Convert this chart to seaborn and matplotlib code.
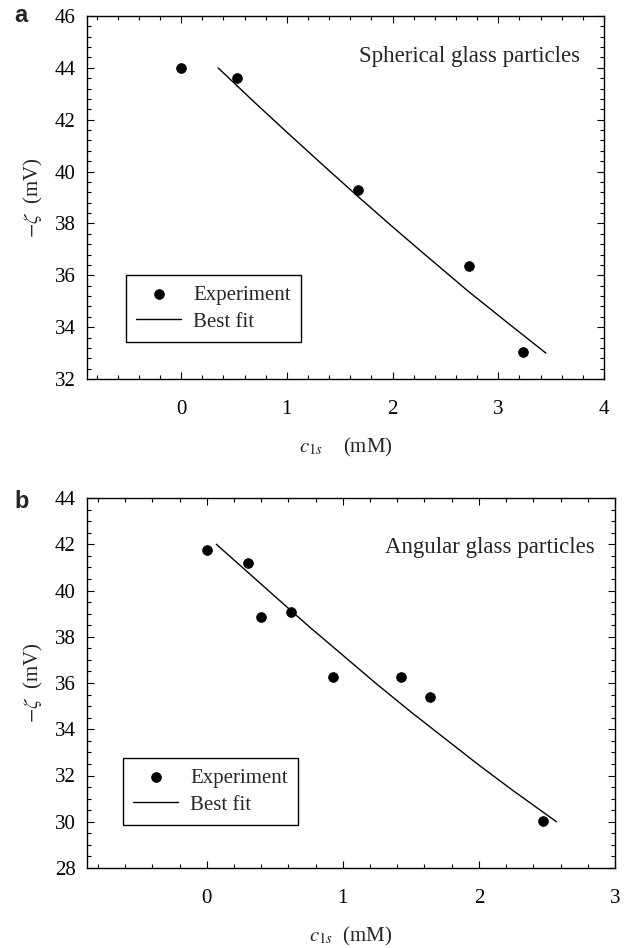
import numpy as np
import pandas as pd
import matplotlib
matplotlib.use("Agg")
import matplotlib.pyplot as plt
from matplotlib.ticker import MultipleLocator
import seaborn as sns

# ---- data ----
a_exp_x = [0.0, 0.53, 1.67, 2.72, 3.23]
a_exp_y = [44.0, 43.6, 39.3, 36.35, 33.05]
a_fit_x = [0.35, 0.7, 1.0, 1.35, 1.67, 2.0, 2.3, 2.72, 3.1, 3.45]
a_fit_y = [44.0, 42.65, 41.52, 40.22, 39.05, 37.87, 36.82, 35.37, 34.13, 33.0]

b_exp_x = [0.0, 0.30, 0.40, 0.62, 0.93, 1.43, 1.64, 2.47]
b_exp_y = [41.75, 41.2, 38.85, 39.05, 36.25, 36.25, 35.4, 30.05]
b_fit_x = [0.07, 0.3, 0.5, 0.75, 1.0, 1.25, 1.5, 1.75, 2.0, 2.25, 2.57]
b_fit_y = [42.0, 40.8, 39.75, 38.45, 37.2, 35.95, 34.75, 33.6, 32.45, 31.35, 30.0]

a_yticks = [32, 34, 36, 38, 40, 42, 44, 46]
a_xticks = [0, 1, 2, 3, 4]
b_yticks = [28, 30, 32, 34, 36, 38, 40, 42, 44]
b_xticks = [0, 1, 2, 3]

sns.set_theme(style="ticks")
plt.rcParams["font.family"] = ["Liberation Serif", "DejaVu Serif"]
plt.rcParams["mathtext.fontset"] = "stix"
plt.rcParams["axes.linewidth"] = 1.0
plt.rcParams["xtick.direction"] = "in"
plt.rcParams["ytick.direction"] = "in"

fig = plt.figure(figsize=(6.31, 9.48), dpi=100)
ax_a = fig.add_axes([87/631, 1-379/948, 517/631, 363/948])
ax_b = fig.add_axes([87/631, 1-868/948, 528/631, 370/948])


def draw(ax, ex, ey, fx, fy, xlim, ylim, xt, yt, xminor, yminor, title, tpos, legpos, xlabel):
    df_e = pd.DataFrame({"x": ex, "y": ey})
    df_f = pd.DataFrame({"x": fx, "y": fy})
    sns.scatterplot(data=df_e, x="x", y="y", ax=ax, color="black", s=50,
                    edgecolor="black", linewidth=0.5, label="Experiment", zorder=3)
    sns.lineplot(data=df_f, x="x", y="y", ax=ax, color="black", linewidth=1.0,
                 label="Best fit", sort=True)
    ax.set_xlim(*xlim)
    ax.set_ylim(*ylim)
    ax.set_xticks(xt)
    ax.set_yticks(yt)
    ax.xaxis.set_minor_locator(MultipleLocator(xminor))
    ax.yaxis.set_minor_locator(MultipleLocator(yminor))
    ax.tick_params(which="both", direction="in", top=True, right=True,
                   labelsize=15, colors="black", width=0.8)
    ax.tick_params(which="major", length=5)
    ax.tick_params(axis="x", which="major", pad=15)
    ax.tick_params(axis="y", which="major", pad=8)
    ax.tick_params(which="minor", length=3)
    for s in ax.spines.values():
        s.set_color("black")
        s.set_linewidth(1.0)
    ax.set_xlabel(xlabel, fontsize=15, labelpad=12)
    ax.set_ylabel(r"$-\zeta$  (mV)", fontsize=15, labelpad=7)
    ax.text(tpos[0], tpos[1], title, transform=ax.transAxes, ha="right",
            va="center", fontsize=16.5)
    leg = ax.legend(loc="lower left", bbox_to_anchor=legpos, frameon=True,
                    fancybox=False, shadow=False, fontsize=15, borderpad=0.5,
                    labelspacing=0.35, handlelength=2.15, handletextpad=0.58,
                    borderaxespad=0.0, markerscale=1.0)
    leg.get_frame().set_edgecolor("black")
    leg.get_frame().set_linewidth(1.0)
    leg.get_frame().set_alpha(1.0)


draw(ax_a, a_exp_x, a_exp_y, a_fit_x, a_fit_y, (-0.89, 4.0), (32, 46),
     a_xticks, a_yticks, 0.2, 0.4, "Spherical glass particles", (0.954, 0.888),
     (0.075, 0.102), r"$c_{1s}$    (mM)")
draw(ax_b, b_exp_x, b_exp_y, b_fit_x, b_fit_y, (-0.88, 3.0), (28, 44),
     b_xticks, b_yticks, 0.2, 0.5, "Angular glass particles", (0.962, 0.865),
     (0.068, 0.116), r"$c_{1s}$  (mM)")

fig.text(14/631, 1-15/948, "a", fontsize=17, fontweight="bold",
         family=["Liberation Sans", "DejaVu Sans"], va="center", ha="left")
fig.text(14/631, 1-501/948, "b", fontsize=17, fontweight="bold",
         family=["Liberation Sans", "DejaVu Sans"], va="center", ha="left")

fig.savefig("out.png", dpi=100)
